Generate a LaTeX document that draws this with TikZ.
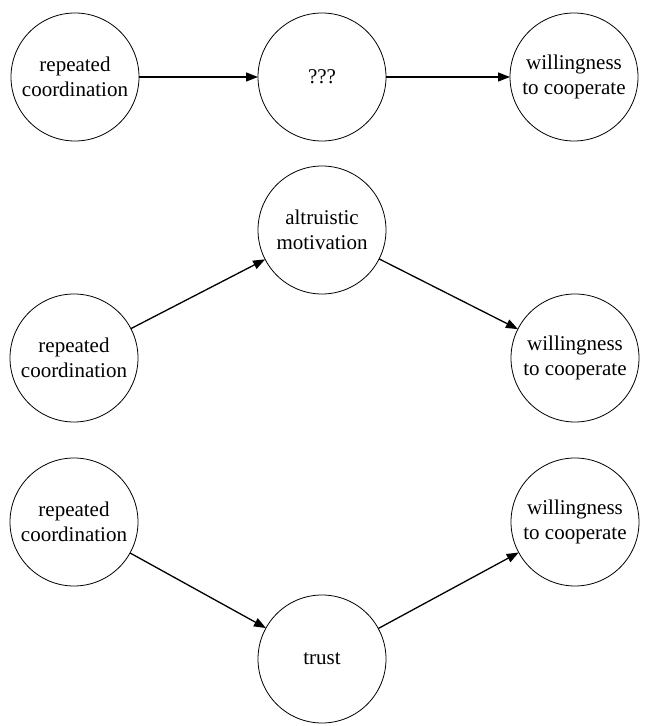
\documentclass[tikz,border=0pt]{standalone}
\usepackage{fontspec}
\setmainfont{Liberation Serif}
\usetikzlibrary{arrows.meta}
\begin{document}
\begin{tikzpicture}[x=1pt,y=1pt,
  bubble/.style={circle,draw=black,line width=0.8pt,minimum size=128pt,inner sep=0pt,outer sep=0pt,align=center,font=\fontsize{21}{25}\selectfont},
  link/.style={line width=1.3pt,-{Triangle[length=12pt,width=9pt]}}]
\useasboundingbox (0,0) rectangle (645,726);
% row 1
\node[bubble] (a1) at (75,649) {repeated\\coordination};
\node[bubble] (b1) at (322,649) {???};
\node[bubble] (c1) at (574,649) {willingness\\to cooperate};
% row 2
\node[bubble] (b2) at (322,496) {altruistic\\motivation};
\node[bubble] (a2) at (74,368) {repeated\\coordination};
\node[bubble] (c2) at (575,368) {willingness\\to cooperate};
% row 3
\node[bubble] (a3) at (74,204) {repeated\\coordination};
\node[bubble] (c3) at (575,204) {willingness\\to cooperate};
\node[bubble] (b3) at (322,67) {trust};
% arrows
\draw[link] (a1) -- (b1);
\draw[link] (b1) -- (c1);
\draw[link] (a2) -- (b2);
\draw[link] (b2) -- (c2);
\draw[link] (a3) -- (b3);
\draw[link] (b3) -- (c3);
\end{tikzpicture}
\end{document}
